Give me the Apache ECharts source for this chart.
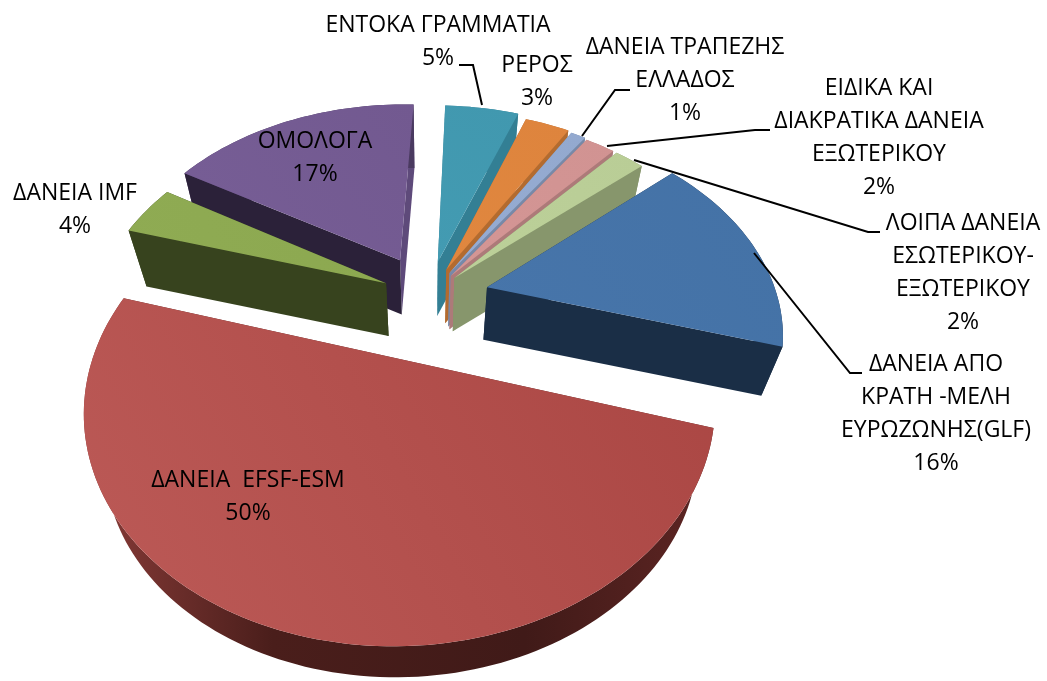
<!DOCTYPE html>
<html>
<head>
<meta charset="utf-8">
<title>Pie</title>
<script src="https://cdn.jsdelivr.net/npm/echarts@6/dist/echarts.min.js"></script>
<style>
  html, body { margin: 0; padding: 0; background: #fff; }
  #chart { width: 1047px; height: 681px; }
</style>
</head>
<body>
<div id="chart"></div>
<script>
// slices, clockwise from the blue one
const names = ['ΔΑΝΕΙΑ ΑΠΟ\nΚΡΑΤΗ -ΜΕΛΗ\nΕΥΡΩΖΩΝΗΣ(GLF)', 'ΔΑΝΕΙΑ  EFSF-ESM', 'ΔΑΝΕΙΑ IMF', 'ΟΜΟΛΟΓΑ', 'ΕΝΤΟΚΑ ΓΡΑΜΜΑΤΙΑ', 'ΡΕΡΟΣ', 'ΔΑΝΕΙΑ ΤΡΑΠΕΖΗΣ\nΕΛΛΑΔΟΣ', 'ΕΙΔΙΚΑ ΚΑΙ\nΔΙΑΚΡΑΤΙΚΑ ΔΑΝΕΙΑ\nΕΞΩΤΕΡΙΚΟΥ', 'ΛΟΙΠΑ ΔΑΝΕΙΑ\nΕΣΩΤΕΡΙΚΟΥ-\nΕΞΩΤΕΡΙΚΟΥ']
const values = [16, 50, 4, 17, 5, 3, 1, 2, 2]

// styles
const topColors = ['#4472A6', '#AA4643', '#8CA850', '#725990', '#4198AF', '#DE843D', '#93A9CF', '#D19392', '#B9CD96']
const topLight = ['#4775AA', '#BC5A57', '#8FAB53', '#775E96', '#439BB2', '#E0873F', '#96ACD2', '#D49695', '#BCD099']
const startWall = ['#1A2E46', '#5E2523', '#37431E', '#2B2139', '#3A8599', '#B36B2F', '#7789A8', '#AD7A79', '#87966C']
const endWall = ['#1A2E46', '#5E2523', '#37431E', '#5E4A7A', '#337F94', '#B36B2F', '#7789A8', '#AD7A79', '#87966C']
const outerWall = ['#1A2E46', '#401A18', '#37431E', '#4A3A60', '#337F94', '#B36B2F', '#7789A8', '#AD7A79', '#87966C']
const explode = [0.21, 0.31, 0.16, 0.21, 0.18, 0.15, 0.14, 0.13, 0.13]

// projection of the tilted disc
const cx = 428, cy = 296
const rx = 290, ry = 200, persp = 0.2
const depth = 52, shrink = 0.06
const startAngle = 49

const total = values.reduce((a, b) => a + b, 0)
const angles = []
let acc = startAngle
values.forEach(v => {
  const span = v / total * 360
  angles.push([acc, acc + span])
  acc += span
})

const rad = d => d * Math.PI / 180

function project(i, ang, r, z) {
  const mid = rad((angles[i][0] + angles[i][1]) / 2)
  const e = explode[i]
  const u = e * Math.sin(mid) + r * Math.sin(rad(ang))
  const v = -(e * Math.cos(mid) + r * Math.cos(rad(ang)))
  const k = 1 / (1 - persp * v)
  const s = 1 - shrink * z
  return [cx + rx * u * k * s, cy + ry * v * k * s + depth * z]
}

function arc(i, z) {
  const pts = []
  const [a0, a1] = angles[i]
  const n = Math.max(4, Math.ceil((a1 - a0) / 1.5))
  for (let j = 0; j <= n; j++) pts.push(project(i, a0 + (a1 - a0) * j / n, 1, z))
  return pts
}

function poly(points, fill) {
  return { type: 'polygon', shape: { points }, style: { fill, stroke: null } }
}

function renderSlice(params, api) {
  const i = api.value(0)
  const apexTop = project(i, 0, 0, 0)
  const apexBottom = project(i, 0, 0, 1)
  const topArc = arc(i, 0)
  const bottomArc = arc(i, 1)
  const last = topArc.length - 1
  const walls = [
    { y: topArc[0][1], el: poly([apexTop, topArc[0], bottomArc[0], apexBottom], startWall[i]) },
    { y: topArc[last][1], el: poly([apexTop, topArc[last], bottomArc[last], apexBottom], endWall[i]) }
  ]
  walls.sort((a, b) => a.y - b.y)
  const wallFill = i === 1
    ? new echarts.graphic.LinearGradient(0, 0, 1, 0, [
        { offset: 0, color: '#8A3C39' },
        { offset: 0.3, color: '#4A1E1B' },
        { offset: 0.7, color: '#401A18' },
        { offset: 1, color: '#5E2523' }
      ])
    : outerWall[i]
  const outer = poly(topArc.concat(bottomArc.slice().reverse()), wallFill)
  const topFill = new echarts.graphic.LinearGradient(0, 1, 1, 0, [
    { offset: 0, color: topLight[i] },
    { offset: 1, color: topColors[i] }
  ])
  const top = poly([apexTop].concat(topArc), topFill)
  return { type: 'group', children: [walls[0].el, outer, walls[1].el, top] }
}

// back slices get painted first
const drawOrder = values.map((v, i) => i).sort((a, b) => {
  const back = k => -Math.cos(rad((angles[k][0] + angles[k][1]) / 2))
  return back(a) - back(b)
})

// label block centres, first line middle and line step
const labelPos = [[936, 364], [248, 480], [75, 193], [315, 141], [438, 25], [537, 65], [685, 47], [879, 88], [963, 223]]
const lineStep = 33
const leaders = [
  [[754, 253], [850, 373], [862, 373]],
  [[459, 65], [473, 65], [482, 105]],
  [[582, 136], [615, 90], [630, 90]],
  [[607, 146], [755, 130], [770, 130]],
  [[634, 160], [868, 232], [880, 232]]
]

const graphicEls = []
names.forEach((name, i) => {
  const lines = name.split('\n').concat([values[i] + '%'])
  lines.forEach((line, j) => {
    graphicEls.push({
      type: 'text',
      z: 10,
      style: {
        text: line,
        x: labelPos[i][0],
        y: labelPos[i][1] + j * lineStep,
        align: 'center',
        verticalAlign: 'middle',
        fill: '#000',
        font: '23px "Open Sans"'
      }
    })
  })
})
leaders.forEach(points => {
  graphicEls.push({
    type: 'polyline',
    z: 9,
    shape: { points },
    style: { stroke: '#000', lineWidth: 2, fill: null }
  })
})

const chart = echarts.init(document.getElementById('chart'))
chart.setOption({
  animation: false,
  backgroundColor: '#fff',
  graphic: graphicEls,
  series: [{
    type: 'custom',
    coordinateSystem: 'none',
    renderItem: renderSlice,
    data: drawOrder.map(i => [i, values[i]])
  }]
})
</script>
</body>
</html>
